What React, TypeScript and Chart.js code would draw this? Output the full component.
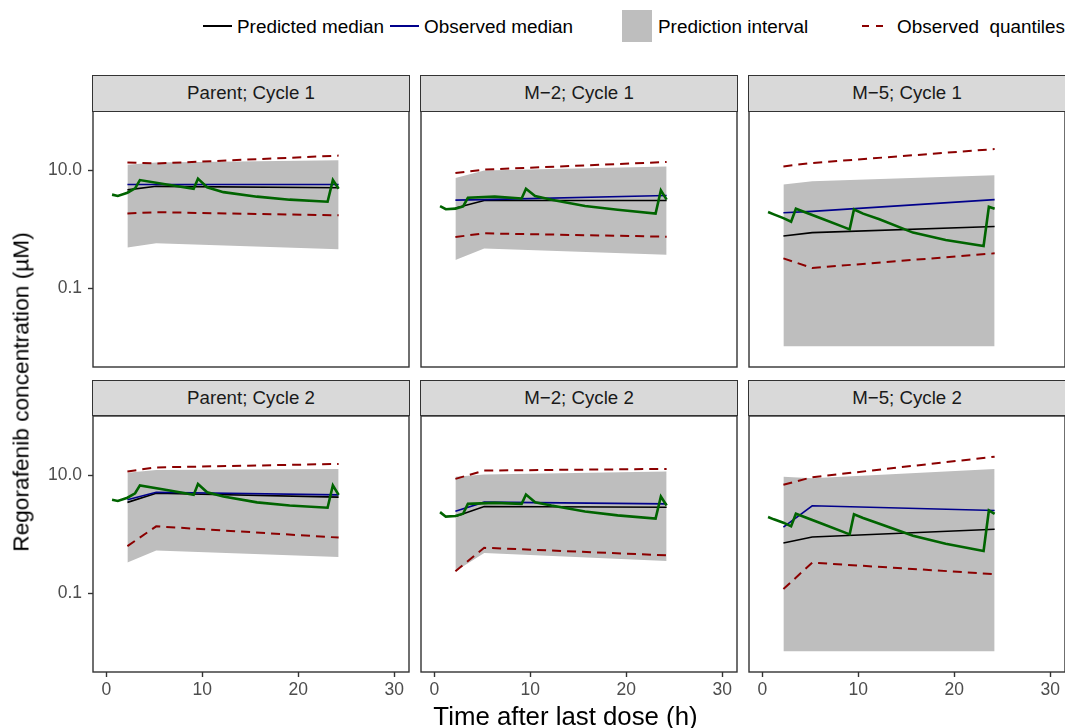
import React, { useEffect, useRef } from "react";
import { Chart, registerables } from "chart.js";

Chart.register(...registerables);

// ---------- data ----------
const panelTitles = [
  "Parent; Cycle 1",
  "M\u22122; Cycle 1",
  "M\u22125; Cycle 1",
  "Parent; Cycle 2",
  "M\u22122; Cycle 2",
  "M\u22125; Cycle 2",
];

const binTimes = [2.2, 5.2, 24.2];

const piUpper = [
  [12.6, 13.8, 15.0],
  [7.5, 10.0, 11.8],
  [5.8, 6.6, 8.3],
  [11.2, 12.5, 13.0],
  [9.6, 10.4, 11.7],
  [9.6, 9.0, 13.0],
];
const piLower = [
  [0.49, 0.58, 0.46],
  [0.3, 0.47, 0.37],
  [0.0102, 0.0102, 0.0102],
  [0.33, 0.53, 0.41],
  [0.236, 0.48, 0.35],
  [0.0102, 0.0102, 0.0102],
];
const obsUpper = [
  [13.8, 13.2, 18.0],
  [9.1, 10.4, 14.0],
  [11.8, 13.5, 23.3],
  [11.8, 13.8, 15.8],
  [8.8, 12.2, 13.0],
  [7.0, 9.4, 21.0],
];
const obsLower = [
  [1.86, 1.96, 1.73],
  [0.74, 0.855, 0.75],
  [0.32, 0.22, 0.39],
  [0.63, 1.37, 0.88],
  [0.236, 0.59, 0.44],
  [0.117, 0.33, 0.21],
];
const obsMedian = [
  [5.8, 5.8, 5.8],
  [3.14, 3.2, 3.77],
  [1.92, 2.02, 3.2],
  [3.87, 5.2, 4.7],
  [2.48, 3.53, 3.3],
  [1.33, 3.06, 2.55],
];
const predMedian = [
  [4.7, 5.4, 5.1],
  [2.3, 3.1, 3.1],
  [0.77, 0.88, 1.12],
  [3.5, 5.0, 4.3],
  [2.02, 2.98, 2.9],
  [0.71, 0.9, 1.22],
];

const simTimes = [0.6, 1.2, 2.2, 3.0, 3.5, 6.3, 9.1, 9.55, 10.5, 12.2, 15.7, 19.1, 23.05, 23.6, 24.2];
const simConc = [
  [3.9, 3.7, 4.2, 5.0, 6.9, 5.8, 4.9, 7.3, 5.2, 4.3, 3.6, 3.2, 2.95, 6.9, 4.9],
  [2.48, 2.2, 2.25, 2.45, 3.45, 3.6, 3.35, 4.9, 3.7, 3.2, 2.5, 2.15, 1.86, 4.6, 3.2],
  [1.97, 1.8, 1.55, 1.35, 2.24, 1.5, 1.0, 2.18, 1.85, 1.48, 0.88, 0.66, 0.52, 2.42, 2.25],
  [3.87, 3.7, 4.2, 5.0, 6.8, 5.7, 4.7, 7.2, 5.2, 4.4, 3.5, 3.1, 2.84, 6.8, 4.7],
  [2.39, 2.0, 2.05, 2.24, 3.3, 3.44, 3.3, 4.77, 3.53, 3.1, 2.45, 2.1, 1.85, 4.4, 3.1],
  [1.97, 1.8, 1.58, 1.37, 2.24, 1.5, 1.0, 2.2, 1.9, 1.51, 0.95, 0.69, 0.52, 2.55, 2.24],
];

const xTicks = [0, 10, 20, 30];
const yTicks = [0.1, 10];

// ---------- layout ----------
const FONT = '"Liberation Sans", Arial, Helvetica, sans-serif';
const X_MIN = -1.385;
const X_MAX = 31.53;
const Y_MIN = 0.00453;
const Y_MAX = 103.5;
const colLefts = [93, 421, 749];
const rowTops = [111, 415.7];
const PW = 316;
const PH = 256.4;
const STRIP_H = 35.3;
const LEFT_AX = 70;
const BOTTOM_AX = 40;
const PAD_TOP = 24;
const PAD_RIGHT = 20;

const borderPlugin = {
  id: "panelBorder",
  afterDraw(chart: any) {
    const { ctx, chartArea } = chart;
    ctx.save();
    ctx.strokeStyle = "#333333";
    ctx.lineWidth = 1.4;
    ctx.strokeRect(chartArea.left, chartArea.top, chartArea.right - chartArea.left, chartArea.bottom - chartArea.top);
    ctx.restore();
  },
};

function pts(xs: number[], ys: number[]) {
  return xs.map((x, i) => ({ x, y: ys[i] }));
}

function Panel({ idx }: { idx: number }) {
  const ref = useRef<HTMLCanvasElement>(null);
  const col = idx % 3;
  const row = Math.floor(idx / 3);
  const showY = col === 0;
  const showX = row === 1;
  const left = colLefts[col] - LEFT_AX;
  const top = rowTops[row] - PAD_TOP;
  const w = LEFT_AX + PW + PAD_RIGHT;
  const h = PAD_TOP + PH + BOTTOM_AX;

  useEffect(() => {
    if (!ref.current) return;
    const chart = new Chart(ref.current, {
      type: "line",
      data: {
        datasets: [
          {
            data: pts(binTimes, piUpper[idx]),
            fill: "+1",
            backgroundColor: "#BEBEBE",
            borderColor: "rgba(0,0,0,0)",
            borderWidth: 0,
            pointRadius: 0,
            order: 10,
          },
          {
            data: pts(binTimes, piLower[idx]),
            fill: false,
            borderColor: "rgba(0,0,0,0)",
            borderWidth: 0,
            pointRadius: 0,
            order: 10,
          },
          {
            data: pts(binTimes, obsUpper[idx]),
            borderColor: "#8B0000",
            borderDash: [9, 6],
            borderWidth: 2,
            pointRadius: 0,
            fill: false,
            order: 5,
          },
          {
            data: pts(binTimes, obsLower[idx]),
            borderColor: "#8B0000",
            borderDash: [9, 6],
            borderWidth: 2,
            pointRadius: 0,
            fill: false,
            order: 5,
          },
          {
            data: pts(binTimes, predMedian[idx]),
            borderColor: "#000000",
            borderWidth: 1.6,
            pointRadius: 0,
            fill: false,
            order: 4,
          },
          {
            data: pts(binTimes, obsMedian[idx]),
            borderColor: "#00008B",
            borderWidth: 1.6,
            pointRadius: 0,
            fill: false,
            order: 3,
          },
          {
            data: pts(simTimes, simConc[idx]),
            borderColor: "#006400",
            borderWidth: 2.6,
            pointRadius: 0,
            fill: false,
            order: 1,
          },
        ],
      },
      options: {
        animation: false,
        responsive: false,
        devicePixelRatio: window.devicePixelRatio || 1,
        layout: { padding: { top: PAD_TOP, right: PAD_RIGHT, left: 0, bottom: 0 } },
        plugins: { legend: { display: false }, tooltip: { enabled: false }, title: { display: false } },
        scales: {
          x: {
            type: "linear",
            min: X_MIN,
            max: X_MAX,
            afterBuildTicks: (s: any) => {
              s.ticks = xTicks.map((v) => ({ value: v }));
            },
            afterFit: (s: any) => {
              s.height = BOTTOM_AX;
            },
            ticks: {
              color: showX ? "#4D4D4D" : "rgba(0,0,0,0)",
              font: { family: FONT, size: 17.5 },
              padding: 3,
              maxRotation: 0,
              autoSkip: false,
              callback: (v: any) => String(v),
            },
            grid: {
              display: true,
              drawOnChartArea: false,
              drawTicks: true,
              tickLength: 5,
              tickColor: showX ? "#333333" : "rgba(0,0,0,0)",
              tickWidth: 1.4,
              color: "rgba(0,0,0,0)",
            },
            border: { display: false },
          },
          y: {
            type: "logarithmic",
            min: Y_MIN,
            max: Y_MAX,
            afterBuildTicks: (s: any) => {
              s.ticks = yTicks.map((v) => ({ value: v }));
            },
            afterFit: (s: any) => {
              s.width = LEFT_AX;
            },
            ticks: {
              color: showY ? "#4D4D4D" : "rgba(0,0,0,0)",
              font: { family: FONT, size: 17.5 },
              padding: 6,
              autoSkip: false,
              callback: (v: any) => (Number(v) >= 1 ? Number(v).toFixed(1) : String(v)),
            },
            grid: {
              display: true,
              drawOnChartArea: false,
              drawTicks: true,
              tickLength: 5,
              tickColor: showY ? "#333333" : "rgba(0,0,0,0)",
              tickWidth: 1.4,
              color: "rgba(0,0,0,0)",
            },
            border: { display: false },
          },
        },
      },
      plugins: [borderPlugin],
    } as any);
    return () => chart.destroy();
  }, [idx]);

  return (
    <>
      <canvas
        ref={ref}
        width={w}
        height={h}
        style={{ position: "absolute", left, top, width: w, height: h }}
      />
      <div
        style={{
          position: "absolute",
          left: colLefts[col] - 0.7,
          top: rowTops[row] - STRIP_H - 0.7,
          width: PW + 1.4,
          height: STRIP_H + 1.4,
          boxSizing: "border-box",
          border: "1.4px solid #333333",
          background: "#D9D9D9",
          display: "flex",
          alignItems: "center",
          justifyContent: "center",
          fontFamily: FONT,
          fontSize: 18.7,
          color: "#1A1A1A",
          whiteSpace: "nowrap",
        }}
      >
        {panelTitles[idx]}
      </div>
    </>
  );
}

const legendText: React.CSSProperties = {
  position: "absolute",
  fontFamily: FONT,
  fontSize: 18.9,
  color: "#000000",
  whiteSpace: "pre",
  lineHeight: "22px",
  top: 16,
};

export default function App() {
  return (
    <div
      style={{
        position: "absolute",
        left: 0,
        top: 0,
        width: 1065,
        height: 728,
        overflow: "hidden",
        background: "#FFFFFF",
      }}
    >
      {/* legend */}
      <div style={{ position: "absolute", left: 203, top: 25, width: 29, height: 2, background: "#000000" }} />
      <div style={{ ...legendText, left: 237 }}>Predicted median</div>
      <div style={{ position: "absolute", left: 390, top: 25, width: 29, height: 2, background: "#00008B" }} />
      <div style={{ ...legendText, left: 424 }}>Observed median</div>
      <div style={{ position: "absolute", left: 622, top: 10, width: 30, height: 32, background: "#BEBEBE" }} />
      <div style={{ ...legendText, left: 658 }}>Prediction interval</div>
      <div style={{ position: "absolute", left: 862, top: 25, width: 7, height: 2, background: "#8B0000" }} />
      <div style={{ position: "absolute", left: 876, top: 25, width: 7, height: 2, background: "#8B0000" }} />
      <div style={{ ...legendText, left: 897 }}>{"Observed  quantiles"}</div>

      {[0, 1, 2, 3, 4, 5].map((i) => (
        <Panel key={i} idx={i} />
      ))}

      {/* axis titles */}
      <div
        style={{
          position: "absolute",
          left: 565.5,
          top: 716,
          transform: "translate(-50%, -50%)",
          fontFamily: FONT,
          fontSize: 25.8,
          color: "#000000",
          whiteSpace: "nowrap",
        }}
      >
        Time after last dose (h)
      </div>
      <div
        style={{
          position: "absolute",
          left: 21,
          top: 392,
          transform: "translate(-50%, -50%) rotate(-90deg)",
          fontFamily: FONT,
          fontSize: 22.7,
          color: "#000000",
          whiteSpace: "nowrap",
        }}
      >
        Regorafenib concentration (µM)
      </div>
    </div>
  );
}
